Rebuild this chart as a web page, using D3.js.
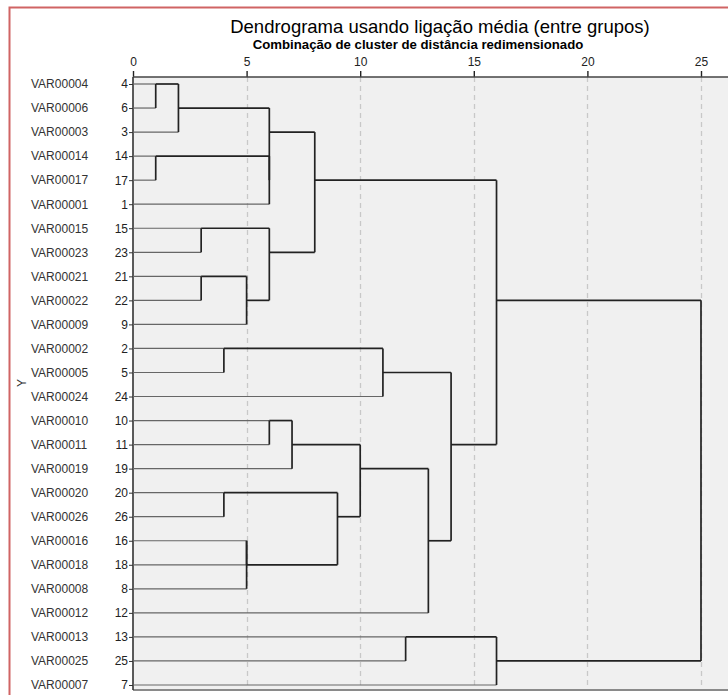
<!DOCTYPE html>
<html><head><meta charset="utf-8">
<script src="https://cdn.jsdelivr.net/npm/d3@7"></script>
<style>
html,body{margin:0;padding:0;background:#fff;}
svg{display:block;font-family:"Liberation Sans",Arial,sans-serif;}
</style></head>
<body>
<script>
// Leaf order (top to bottom)
const varNames = ["VAR00004","VAR00006","VAR00003","VAR00014","VAR00017","VAR00001","VAR00015","VAR00023","VAR00021","VAR00022","VAR00009","VAR00002","VAR00005","VAR00024","VAR00010","VAR00011","VAR00019","VAR00020","VAR00026","VAR00016","VAR00018","VAR00008","VAR00012","VAR00013","VAR00025","VAR00007"];
const caseNumbers = [4,6,3,14,17,1,15,23,21,22,9,2,5,24,10,11,19,20,26,16,18,8,12,13,25,7];
// Merge table: [childA, childB] (0..25 = leaves in row order, 26+ = earlier merges)
const mergeA = [0,26,3,28,27,6,8,32,31,30,11,36,14,38,17,19,41,40,39,44,37,35,23,48,47];
const mergeB = [1,2,4,5,29,7,9,10,33,34,12,13,15,16,18,20,21,42,43,22,45,46,24,25,49];
// Rescaled distance at which each merge happens
const mergeDist = [1,2,1,6,6,3,3,5,6,8,4,11,6,7,4,5,5,9,10,13,14,16,12,16,25];
const xTicks = [0,5,10,15,20,25];
const title = "Dendrograma usando ligação média (entre grupos)";
const subtitle = "Combinação de cluster de distância redimensionado";
const yTitle = "Y";

const W = 728, H = 695;
const svg = d3.select("body").append("svg").attr("width", W).attr("height", H);

const x = d3.scaleLinear().domain([0,25]).range([133,701]);
const y = d3.scaleLinear().domain([0, varNames.length-1]).range([84,685]);
const plotTop = 77, plotBottom = 690, plotLeft = 133, plotRight = 728;

// outer red frame
svg.append("path").attr("d", `M9.5,${H} V7.5 H${W}`).attr("fill","none")
  .attr("stroke","#d06464").attr("stroke-width",2);

// titles
svg.append("text").attr("x",440).attr("y",33).attr("text-anchor","middle")
  .attr("font-size",18.5).attr("fill","#000").text(title);
svg.append("text").attr("x",418).attr("y",49).attr("text-anchor","middle")
  .attr("font-size",13.2).attr("font-weight","bold").attr("fill","#000").text(subtitle);

// plot background
svg.append("rect").attr("x",plotLeft).attr("y",plotTop).attr("width",plotRight-plotLeft)
  .attr("height",plotBottom-plotTop).attr("fill","#f0f0f0");

// grid lines
svg.append("g").selectAll("line").data(xTicks.filter(d=>d>0)).join("line")
  .attr("x1",d=>Math.round(x(d))+0.5).attr("x2",d=>Math.round(x(d))+0.5)
  .attr("y1",plotTop).attr("y2",plotBottom)
  .attr("stroke","#c8c8c8").attr("stroke-width",1.3).attr("stroke-dasharray","5,4");

// top axis
const axTop = d3.axisTop(x).tickValues(xTicks).tickSize(6).tickSizeOuter(0).tickFormat(d3.format("d"));
const gx = svg.append("g").attr("transform",`translate(0,${plotTop})`).call(axTop);
gx.select(".domain").remove();
gx.selectAll(".tick line").attr("stroke","#222").attr("stroke-width",1.4);
gx.selectAll(".tick text").attr("font-size",12).attr("fill","#222")
  .attr("font-family","Liberation Sans, Arial, sans-serif").attr("dy","-0.15em");
svg.append("line").attr("x1",plotLeft).attr("x2",plotRight).attr("y1",plotTop).attr("y2",plotTop)
  .attr("stroke","#444").attr("stroke-width",1.5);

// bottom border
svg.append("line").attr("x1",plotLeft).attr("x2",plotRight).attr("y1",plotBottom).attr("y2",plotBottom)
  .attr("stroke","#8a8a8a").attr("stroke-width",2);

// left axis
const axLeft = d3.axisLeft(y).tickValues(d3.range(varNames.length)).tickSize(4).tickSizeOuter(0)
  .tickFormat(i=>caseNumbers[i]);
const gy = svg.append("g").attr("transform",`translate(${plotLeft},0)`).call(axLeft);
gy.select(".domain").remove();
gy.selectAll(".tick line").attr("stroke","#333");
gy.selectAll(".tick text").attr("font-size",12).attr("fill","#222")
  .attr("font-family","Liberation Sans, Arial, sans-serif").attr("x",-5);
svg.append("line").attr("x1",plotLeft).attr("x2",plotLeft).attr("y1",plotTop).attr("y2",plotBottom)
  .attr("stroke","#333").attr("stroke-width",1.6);

// variable names
svg.append("g").selectAll("text").data(varNames).join("text")
  .attr("x",31).attr("y",(d,i)=>y(i)).attr("dy","0.36em")
  .attr("font-size",12).attr("fill","#333").text(d=>d);

// y title
svg.append("text").attr("transform","translate(26,383) rotate(-90)").attr("text-anchor","middle")
  .attr("font-size",12).attr("fill","#333").text(yTitle);

// compute dendrogram positions (SPSS-like: floor of midpoint row)
const n = varNames.length;
const pos = [], height = [], parentDist = [];
for (let i=0;i<n;i++){ pos[i]=i; height[i]=0; }
mergeA.forEach((a,k)=>{
  const b = mergeB[k], id = n+k;
  pos[id] = Math.floor((pos[a]+pos[b])/2);
  height[id] = mergeDist[k];
  parentDist[a] = mergeDist[k]; parentDist[b] = mergeDist[k];
});

const gLeaf = svg.append("g");
const gTree = svg.append("g");
// leaf horizontal lines
gLeaf.selectAll("line").data(d3.range(n)).join("line")
  .attr("x1",x(0)).attr("x2",i=>x(parentDist[i]))
  .attr("y1",i=>y(pos[i])).attr("y2",i=>y(pos[i]))
  .attr("stroke","#666").attr("stroke-width",1.2);
// cluster horizontal lines
const clusterIds = d3.range(n, n+mergeA.length).filter(id=>parentDist[id]!==undefined);
gTree.selectAll("line.h").data(clusterIds).join("line").attr("class","h")
  .attr("x1",id=>x(height[id])).attr("x2",id=>x(parentDist[id]))
  .attr("y1",id=>y(pos[id])).attr("y2",id=>y(pos[id]))
  .attr("stroke","#222").attr("stroke-width",1.7);
// verticals
gTree.selectAll("line.v").data(d3.range(mergeA.length)).join("line").attr("class","v")
  .attr("x1",k=>x(mergeDist[k])).attr("x2",k=>x(mergeDist[k]))
  .attr("y1",k=>y(pos[mergeA[k]])).attr("y2",k=>y(pos[mergeB[k]]))
  .attr("stroke","#222").attr("stroke-width",1.7);
</script>
</body></html>
